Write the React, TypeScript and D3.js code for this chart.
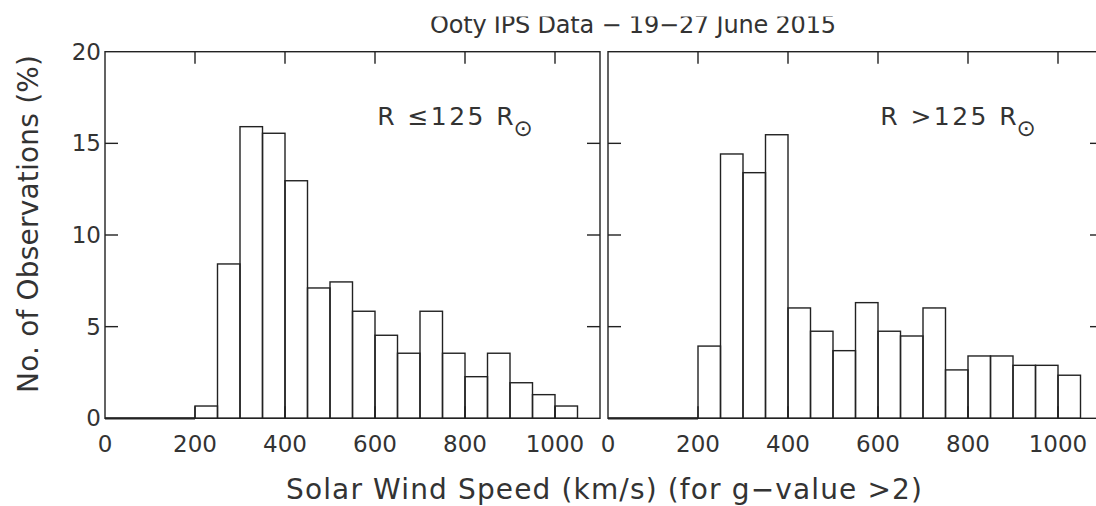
import React from "react";
import * as d3 from "d3";

// histogram bins (km/s), width 50
const binStarts = [200, 250, 300, 350, 400, 450, 500, 550, 600, 650, 700, 750, 800, 850, 900, 950, 1000];
const binWidth = 50;

// % of observations, R <= 125 Rsun
const innerValues = [0.67, 8.42, 15.91, 15.55, 12.96, 7.11, 7.44, 5.84, 4.53, 3.55, 5.84, 3.55, 2.27, 3.55, 1.94, 1.29, 0.67];
// % of observations, R > 125 Rsun
const outerValues = [3.94, 14.42, 13.4, 15.47, 6.02, 4.75, 3.69, 6.31, 4.75, 4.49, 6.02, 2.64, 3.4, 3.4, 2.89, 2.89, 2.35];

const xTicks = [0, 200, 400, 600, 800, 1000];
const yTicks = [0, 5, 10, 15, 20];

const W = 1096;
const H = 506;
const top = 51.7;
const bottom = 418.3;
const panelW = 495;
const ink = "#222";
const textInk = "#333";
const font = "DejaVu Sans, sans-serif";

const y = d3.scaleLinear().domain([0, 20]).range([bottom, top]);

const Panel = ({ x0, values, label }: { x0: number; values: number[]; label: string }) => {
  const x = d3.scaleLinear().domain([0, 1100]).range([x0, x0 + panelW]);
  const tick = 13;
  return (
    <g>
      {binStarts.map((b, i) => (
        <rect
          key={b}
          x={x(b)}
          y={y(values[i])}
          width={x(b + binWidth) - x(b)}
          height={y(0) - y(values[i])}
          fill="none"
          stroke={ink}
          strokeWidth={1.4}
        />
      ))}
      <line x1={x(0)} x2={x(200)} y1={y(0)} y2={y(0)} stroke={ink} strokeWidth={2.2} />
      <rect x={x(0)} y={top} width={panelW} height={bottom - top} fill="none" stroke={ink} strokeWidth={1.4} />
      {yTicks.slice(1, -1).map((t) => (
        <g key={t}>
          <line x1={x(0)} x2={x(0) + tick} y1={y(t)} y2={y(t)} stroke={ink} strokeWidth={1.4} />
          <line x1={x(1100)} x2={x(1100) - tick} y1={y(t)} y2={y(t)} stroke={ink} strokeWidth={1.4} />
        </g>
      ))}
      {xTicks.slice(1).map((t) => (
        <g key={t}>
          <line x1={x(t)} x2={x(t)} y1={top} y2={top + 12} stroke={ink} strokeWidth={1.4} />
          <line x1={x(t)} x2={x(t)} y1={bottom} y2={bottom - 12} stroke={ink} strokeWidth={1.4} />
        </g>
      ))}
      {xTicks.map((t) => (
        <text key={t} x={x(t)} y={452} textAnchor="middle" fontSize={23} fill={textInk} fontFamily={font}>
          {t}
        </text>
      ))}
      <text
        x={x(605)}
        y={125}
        fontSize={25}
        fill={textInk}
        fontFamily={font}
        textLength={x(908) - x(605)}
        lengthAdjust="spacing"
      >
        {label}
      </text>
      <text x={x(929)} y={136} textAnchor="middle" fontSize={23} fill={textInk} fontFamily={font}>
        ⊙
      </text>
    </g>
  );
};

export default function App() {
  const leftX = 105;
  const rightX = 608;
  return (
    <svg width={W} height={H} style={{ position: "absolute", left: 0, top: 0, background: "#fff" }}>
      <rect width={W} height={H} fill="#fff" />
      <Panel x0={leftX} values={innerValues} label="R ≤125 R" />
      <Panel x0={rightX} values={outerValues} label="R >125 R" />
      {yTicks.map((t) => (
        <text key={t} x={101} y={y(t) + 8} textAnchor="end" fontSize={23} fill={textInk} fontFamily={font}>
          {t}
        </text>
      ))}
      <text
        x={633}
        y={33}
        textAnchor="middle"
        fontSize={24}
        fill={textInk}
        fontFamily={font}
        textLength={406}
        lengthAdjust="spacing"
      >
        Ooty IPS Data − 19−27 June 2015
      </text>
      {/* the source image is clipped just above the title */}
      <rect x={0} y={0} width={W} height={16.5} fill="#fff" />
      <text
        transform={`translate(38,224) rotate(-90)`}
        textAnchor="middle"
        fontSize={28}
        fill={textInk}
        fontFamily={font}
        textLength={338}
        lengthAdjust="spacing"
      >
        No. of Observations (%)
      </text>
      <text
        x={604}
        y={499}
        textAnchor="middle"
        fontSize={28}
        fill={textInk}
        fontFamily={font}
        textLength={636}
        lengthAdjust="spacing"
      >
        Solar Wind Speed (km/s) (for g−value &gt;2)
      </text>
    </svg>
  );
}
